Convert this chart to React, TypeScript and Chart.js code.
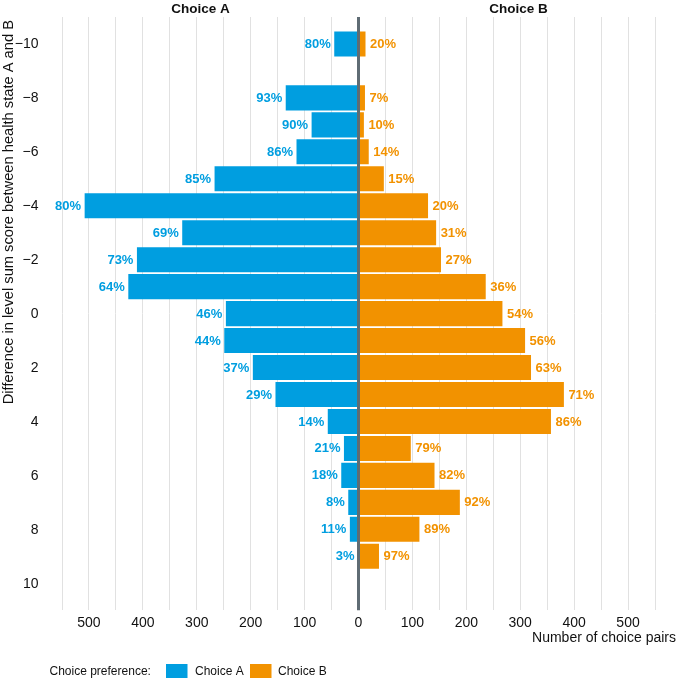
import React, { useEffect, useRef } from 'react';
import { Chart, registerables } from 'chart.js';

Chart.register(...registerables);

// Difference in level sum score (A - B)
const levels = [-10, -9, -8, -7, -6, -5, -4, -3, -2, -1, 0, 1, 2, 3, 4, 5, 6, 7, 8, 9, 10];
// Number of choice pairs where Choice A / Choice B was preferred (null = no pairs)
const choiceA = [45, null, 135, 87, 115, 267, 508, 327, 411, 427, 246, 249, 196, 154, 57, 27, 32, 19, 16, 1, null];
const choiceB = [13, null, 12, 10, 19, 47, 129, 144, 153, 236, 267, 309, 320, 381, 357, 97, 141, 188, 113, 38, null];
// Share labels
const pctA = ['80%', '', '93%', '90%', '86%', '85%', '80%', '69%', '73%', '64%', '46%', '44%', '37%', '29%', '14%', '21%', '18%', '8%', '11%', '3%', ''];
const pctB = ['20%', '', '7%', '10%', '14%', '15%', '20%', '31%', '27%', '36%', '54%', '56%', '63%', '71%', '86%', '79%', '82%', '92%', '89%', '97%', ''];

const yTicks = [-10, -8, -6, -4, -2, 0, 2, 4, 6, 8, 10];
const xMin = -550;
const xMax = 550;

const BLUE = 'rgb(0,158,224)';
const ORANGE = 'rgb(242,146,0)';
const FONT = '"Liberation Sans", Arial, Helvetica, sans-serif';
const Y_TITLE = 'Difference in level sum score between health state A and B';

const seriesA = levels
  .map((y, i) => (choiceA[i] == null ? null : { x: -(choiceA[i] as number), y, label: pctA[i] }))
  .filter(Boolean);
const seriesB = levels
  .map((y, i) => (choiceB[i] == null ? null : { x: choiceB[i] as number, y, label: pctB[i] }))
  .filter(Boolean);

const yLabel = (v: number) => (v < 0 ? `\u2212${-v}` : `${v}`);

const overlay = {
  id: 'overlay',
  afterDatasetsDraw(chart: any) {
    const { ctx, chartArea, scales } = chart;
    ctx.save();
    ctx.font = `bold 13px ${FONT}`;
    ctx.textBaseline = 'middle';
    chart.data.datasets.forEach((ds: any, di: number) => {
      const meta = chart.getDatasetMeta(di);
      meta.data.forEach((el: any, j: number) => {
        const lab = ds.data[j].label;
        if (!lab) return;
        ctx.fillStyle = ds.backgroundColor;
        if (di === 0) {
          ctx.textAlign = 'right';
          ctx.fillText(lab, el.x - 3.5, el.y + 0.5);
        } else {
          ctx.textAlign = 'left';
          ctx.fillText(lab, el.x + 4.5, el.y + 0.5);
        }
      });
    });
    const x0 = scales.x.getPixelForValue(0);
    ctx.strokeStyle = '#5f6c74';
    ctx.lineWidth = 3;
    ctx.beginPath();
    ctx.moveTo(x0, chartArea.top);
    ctx.lineTo(x0, chartArea.bottom);
    ctx.stroke();
    ctx.restore();
  },
  afterDraw(chart: any) {
    const { ctx, scales, chartArea } = chart;
    ctx.save();
    ctx.fillStyle = '#111';
    ctx.font = `bold 13.5px ${FONT}`;
    ctx.textAlign = 'center';
    ctx.textBaseline = 'middle';
    ctx.fillText('Choice A', scales.x.getPixelForValue(-293), 9);
    ctx.fillText('Choice B', scales.x.getPixelForValue(297), 9);
    // y tick labels
    ctx.font = `14px ${FONT}`;
    ctx.textAlign = 'right';
    yTicks.forEach((v) => {
      ctx.fillText(yLabel(v), 38.5, scales.y.getPixelForValue(v) + 0.5);
    });
    // y-axis title
    ctx.save();
    ctx.font = `14.7px ${FONT}`;
    ctx.translate(8.5, chartArea.top + 3);
    ctx.rotate(-Math.PI / 2);
    ctx.textAlign = 'right';
    ctx.textBaseline = 'middle';
    ctx.fillText(Y_TITLE, 0, 0);
    ctx.restore();
    // x-axis title
    ctx.textAlign = 'right';
    ctx.fillText('Number of choice pairs', 676, 638);
    // legend
    ctx.font = `12px ${FONT}`;
    ctx.textAlign = 'left';
    ctx.fillText('Choice preference:', 49.5, 671.5);
    ctx.fillStyle = BLUE;
    ctx.fillRect(166, 664, 21.5, 14);
    ctx.fillStyle = '#111';
    ctx.fillText('Choice A', 195, 671.5);
    ctx.fillStyle = ORANGE;
    ctx.fillRect(250, 664, 21.5, 14);
    ctx.fillStyle = '#111';
    ctx.fillText('Choice B', 278, 671.5);
    ctx.restore();
  },
};

export default function App() {
  const ref = useRef<HTMLCanvasElement | null>(null);

  useEffect(() => {
    if (!ref.current) return;
    Chart.defaults.font.family = FONT;
    const chart = new Chart(ref.current, {
      type: 'bar',
      data: {
        datasets: [
          {
            label: 'Choice A',
            data: seriesA as any,
            backgroundColor: BLUE,
            borderWidth: 0,
            barPercentage: 0.93,
            categoryPercentage: 1,
          },
          {
            label: 'Choice B',
            data: seriesB as any,
            backgroundColor: ORANGE,
            borderWidth: 0,
            barPercentage: 0.93,
            categoryPercentage: 1,
          },
        ],
      },
      options: {
        indexAxis: 'y',
        animation: false,
        responsive: true,
        maintainAspectRatio: false,
        layout: { padding: { top: 17, right: 22, bottom: 45, left: 0 } },
        plugins: {
          legend: { display: false },
          tooltip: { enabled: false },
        },
        scales: {
          x: {
            type: 'linear',
            min: xMin,
            max: xMax,
            stacked: true,
            offset: false,
            grid: { color: '#e1e1e1', lineWidth: 1, drawTicks: false, offset: false },
            border: { display: false },
            ticks: {
              stepSize: 50,
              autoSkip: false,
              maxRotation: 0,
              padding: 5,
              color: '#111',
              font: { size: 14, family: FONT },
              callback: (v: any) => (Math.abs(v) % 100 === 0 && Math.abs(v) <= 500 ? String(Math.abs(v)) : ''),
            },
          },
          y: {
            type: 'linear',
            min: -11,
            max: 11,
            reverse: true,
            stacked: true,
            offset: false,
            grid: { display: false, drawTicks: false, offset: false },
            border: { display: false },
            afterBuildTicks: (axis: any) => {
              axis.ticks = yTicks.map((v) => ({ value: v }));
            },
            afterFit: (axis: any) => {
              axis.width = 62;
            },
            ticks: { display: false, padding: 0 },
          },
        },
      },
      plugins: [overlay],
    });
    return () => chart.destroy();
  }, []);

  return (
    <div style={{ position: 'absolute', left: 0, top: 0, width: 677, height: 682 }}>
      <canvas ref={ref} />
    </div>
  );
}
